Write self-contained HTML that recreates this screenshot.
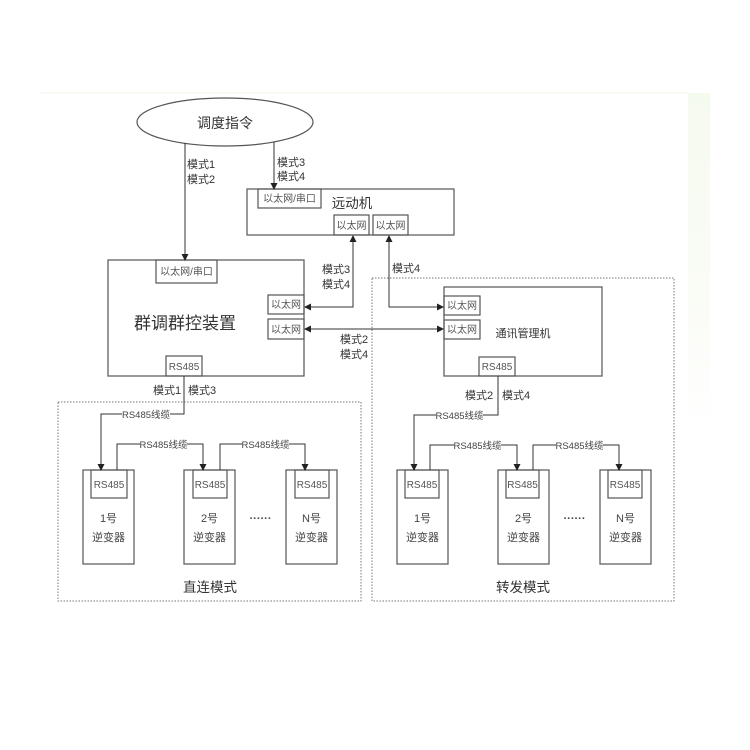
<!DOCTYPE html>
<html><head><meta charset="utf-8"><style>
html,body{margin:0;padding:0;background:#fff;}
svg{display:block;}
text{font-family:"Liberation Sans","Noto Sans CJK SC",sans-serif;}
</style></head><body>
<svg width="750" height="750" viewBox="0 0 750 750" xmlns="http://www.w3.org/2000/svg">
<defs>
<linearGradient id="g" x1="0" y1="0" x2="0" y2="1">
<stop offset="0" stop-color="#f5faef"/><stop offset="0.6" stop-color="#fafcf6"/><stop offset="1" stop-color="#ffffff"/>
</linearGradient>
</defs>
<rect x="0" y="0" width="750" height="750" fill="#fff"/>
<rect x="688" y="93" width="22" height="340" fill="url(#g)"/>
<line x1="40" y1="93" x2="688" y2="93" stroke="#f6f4e6" stroke-width="1"/>

<g fill="none" stroke="#555" stroke-width="1.2">
<ellipse cx="225" cy="122" rx="88" ry="24"/>
<rect x="247" y="189" width="207" height="46"/>
<rect x="258" y="189" width="63" height="19"/>
<rect x="334" y="215" width="35" height="20"/>
<rect x="373" y="215" width="35" height="20"/>
<rect x="108" y="260" width="196" height="116"/>
<rect x="156" y="260" width="61" height="23"/>
<rect x="268" y="295" width="36" height="19"/>
<rect x="268" y="319" width="36" height="20"/>
<rect x="166" y="356" width="36" height="20"/>
<rect x="444" y="287" width="158" height="89"/>
<rect x="444" y="296" width="36" height="19"/>
<rect x="444" y="320" width="36" height="19"/>
<rect x="479" y="357" width="36" height="19"/>
<rect x="83" y="470" width="51" height="94"/>
<rect x="91" y="470" width="36" height="28"/>
<rect x="184" y="470" width="51" height="94"/>
<rect x="193" y="470" width="34" height="28"/>
<rect x="286" y="470" width="51" height="94"/>
<rect x="295" y="470" width="34" height="28"/>
<rect x="397" y="470" width="51" height="94"/>
<rect x="405" y="470" width="34" height="28"/>
<rect x="498" y="470" width="51" height="94"/>
<rect x="506" y="470" width="33" height="28"/>
<rect x="600" y="470" width="51" height="94"/>
<rect x="608" y="470" width="34" height="28"/>
</g>

<g fill="none" stroke="#777" stroke-width="1" stroke-dasharray="1.5,1.5">
<rect x="58" y="402" width="303" height="199"/>
<rect x="372" y="278" width="302" height="323"/>
</g>

<g fill="none" stroke="#333" stroke-width="1">
<line x1="185" y1="143" x2="185" y2="255"/>
<line x1="274" y1="142" x2="274" y2="184"/>
<polyline points="353,241 353,307 310,307"/>
<polyline points="389,241 389,307 438,307"/>
<line x1="310" y1="329" x2="438" y2="329"/>
<polyline points="184,376 184,414 101,414 101,465"/>
<polyline points="117,470 117,444 203,444 203,465"/>
<polyline points="220,470 220,444 305,444 305,465"/>
<polyline points="498,376 498,415 414,415 414,465"/>
<polyline points="430,470 430,445 517,445 517,465"/>
<polyline points="533,470 533,445 619,445 619,465"/>
</g>
<g fill="#222">
<polygon points="185,261 181.5,254 188.5,254"/>
<polygon points="274,190 270.5,183 277.5,183"/>
<polygon points="353,235 349.5,242 356.5,242"/>
<polygon points="389,235 385.5,242 392.5,242"/>
<polygon points="304,307 311,303.5 311,310.5"/>
<polygon points="304,329 311,325.5 311,332.5"/>
<polygon points="444,307 437,303.5 437,310.5"/>
<polygon points="444,329 437,325.5 437,332.5"/>
<polygon points="101,471 97.5,464 104.5,464"/>
<polygon points="203,471 199.5,464 206.5,464"/>
<polygon points="305,471 301.5,464 308.5,464"/>
<polygon points="414,471 410.5,464 417.5,464"/>
<polygon points="517,471 513.5,464 520.5,464"/>
<polygon points="619,471 615.5,464 622.5,464"/>
</g>

<g fill="#fff">
<rect x="122" y="408" width="48" height="12"/>
<rect x="140" y="438" width="47" height="12"/>
<rect x="242" y="438" width="47" height="12"/>
<rect x="436" y="409" width="47" height="12"/>
<rect x="454" y="439" width="47" height="12"/>
<rect x="556" y="439" width="47" height="12"/>
</g>

<g fill="#333" text-anchor="middle">
<text x="225" y="128" font-size="14">调度指令</text>
<text x="352" y="208" font-size="13.5">远动机</text>
<text x="185" y="329" font-size="17">群调群控装置</text>
<text x="523" y="337" font-size="11">通讯管理机</text>
<text x="210" y="592" font-size="13.5">直连模式</text>
<text x="523" y="592" font-size="13.5">转发模式</text>
</g>

<g fill="#333" font-size="11">
<text x="187" y="168">模式1</text>
<text x="187" y="183">模式2</text>
<text x="277" y="166">模式3</text>
<text x="277" y="180">模式4</text>
<text x="322" y="273">模式3</text>
<text x="322" y="288">模式4</text>
<text x="392" y="272">模式4</text>
<text x="340" y="343">模式2</text>
<text x="340" y="358">模式4</text>
<text x="153" y="394">模式1</text>
<text x="188" y="394">模式3</text>
<text x="465" y="399">模式2</text>
<text x="502" y="399">模式4</text>
</g>

<g fill="#555" font-size="10" text-anchor="middle">
<text x="289.5" y="202">以太网/串口</text>
<text x="351.5" y="229">以太网</text>
<text x="390.5" y="229">以太网</text>
<text x="186.5" y="275">以太网/串口</text>
<text x="286" y="308">以太网</text>
<text x="286" y="333">以太网</text>
<text x="184" y="370">RS485</text>
<text x="462" y="309">以太网</text>
<text x="462" y="333">以太网</text>
<text x="497" y="370">RS485</text>
<text x="109" y="488">RS485</text>
<text x="210" y="488">RS485</text>
<text x="312" y="488">RS485</text>
<text x="422" y="488">RS485</text>
<text x="522.5" y="488">RS485</text>
<text x="625" y="488">RS485</text>
</g>

<g fill="#444" font-size="9.5" text-anchor="middle">
<text x="146" y="418">RS485线缆</text>
<text x="163.5" y="448">RS485线缆</text>
<text x="265.5" y="448">RS485线缆</text>
<text x="459.5" y="419">RS485线缆</text>
<text x="477.5" y="449">RS485线缆</text>
<text x="579.5" y="449">RS485线缆</text>
</g>

<g fill="#444" font-size="11" text-anchor="middle">
<text x="108.5" y="522">1号</text>
<text x="108.5" y="541">逆变器</text>
<text x="209.5" y="522">2号</text>
<text x="209.5" y="541">逆变器</text>
<text x="311.5" y="522">N号</text>
<text x="311.5" y="541">逆变器</text>
<text x="422.5" y="522">1号</text>
<text x="422.5" y="541">逆变器</text>
<text x="523.5" y="522">2号</text>
<text x="523.5" y="541">逆变器</text>
<text x="625.5" y="522">N号</text>
<text x="625.5" y="541">逆变器</text>
</g>
<g fill="#444" font-size="11" text-anchor="middle" font-weight="bold">
<text x="260.5" y="522">······</text>
<text x="574.5" y="522">······</text>
</g>
</svg>
</body></html>
